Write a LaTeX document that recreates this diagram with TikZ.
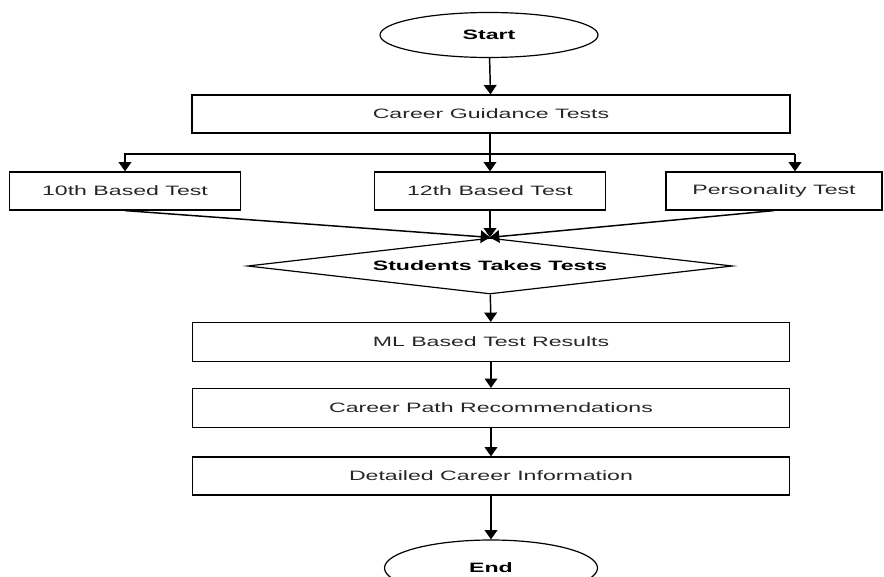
\documentclass[tikz,border=0pt]{standalone}
\usepackage{fontspec}
\setmainfont{Liberation Sans}[FakeStretch=1.7]
\usetikzlibrary{shapes.geometric, arrows.meta}

\begin{document}
\begin{tikzpicture}[x=0.75pt, y=-0.75pt,
    label font/.style={font=\fontsize{10.2}{12}\selectfont, text=black!85},
    box/.style={draw, line width=0.9pt, inner sep=0pt, minimum height=28.5pt, label font},
    terminal/.style={draw, ellipse, line width=0.9pt, inner sep=0pt, font=\fontsize{10.2}{12}\selectfont\bfseries},
    decision/.style={draw, diamond, line width=0.9pt, inner sep=0pt, shape aspect=8.66, font=\fontsize{10.2}{12}\selectfont\bfseries},
    flow/.style={line width=1.1pt, -{Triangle[width=9.5pt, length=7pt]}},
    wire/.style={line width=1.1pt}]

\useasboundingbox (0, 0) rectangle (884, 577);

\node[terminal, minimum width=163.5pt, minimum height=33.75pt] (start) at (489, 35) {Start};
\node[box, minimum width=448.5pt] (guide) at (491, 114) {Career Guidance Tests};

\node[box, minimum width=173.25pt] (tenth) at (125, 191) {10th Based Test};
\node[box, minimum width=173.25pt] (twelfth) at (490, 191) {12th Based Test};
\node[box, minimum width=162pt] (person) at (774, 191) {Personality Test};

\node[decision, minimum width=363.75pt, minimum height=42pt] (takes) at (490, 266) {Students Takes Tests};

\node[box, minimum width=447.75pt, minimum height=29.25pt] (mlres) at (491, 342) {ML Based Test Results};
\node[box, minimum width=447.75pt, minimum height=29.25pt] (path) at (491, 408) {Career Path Recommendations};
\node[box, minimum width=447.75pt] (info) at (491, 476) {Detailed Career Information};

\node[terminal, minimum width=159.75pt, minimum height=42pt] (stop) at (491, 568) {End};

% branching to the three tests
\coordinate (split) at (490, 154);
\coordinate (pdrop) at (795, 154);
\draw[flow] (start) -- (guide);
\draw[flow] (guide.south -| twelfth) -- (twelfth);
\draw[flow] (split) -| (tenth);
\draw[wire] (split) -- (pdrop);
\draw[flow] (pdrop) -- (pdrop |- person.north);

% tests converge on the decision
\draw[flow] (tenth.south) -- (takes.north);
\draw[flow] (twelfth.south) -- (takes.north);
\draw[flow] (person.south) -- (takes.north);

\draw[flow] (takes) -- (mlres);
\draw[flow] (mlres) -- (path);
\draw[flow] (path) -- (info);
\draw[flow] (info.south) -- (stop.north);

\end{tikzpicture}
\end{document}
